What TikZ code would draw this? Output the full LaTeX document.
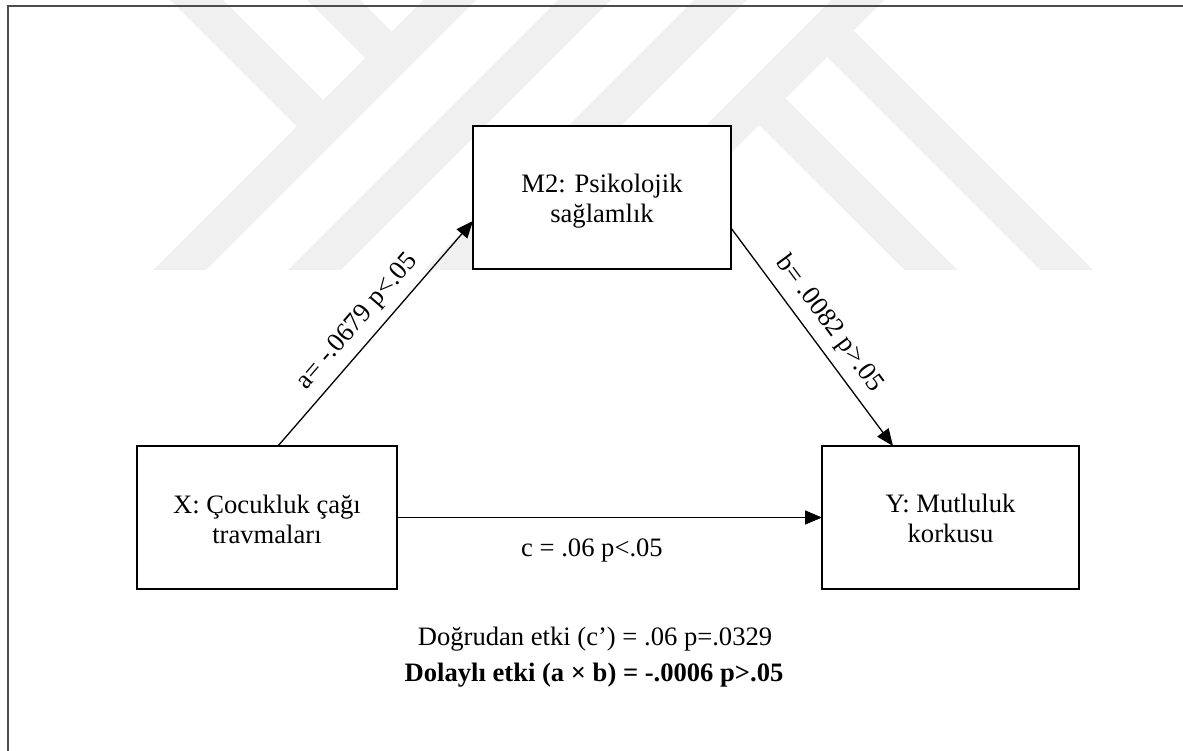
\documentclass[tikz,border=0pt]{standalone}
\usepackage{fontspec}
\setmainfont{Liberation Serif}
\usetikzlibrary{arrows.meta}
\begin{document}
\begin{tikzpicture}[x=1pt,y=-1pt,
  box/.style={draw=black, line width=2.6pt, fill=white, minimum height=143pt, inner sep=0pt, outer sep=0pt},
  txt/.style={font=\fontsize{26.6pt}{30.5pt}\selectfont, align=center, inner sep=0pt},
  conn/.style={line width=1.3pt, -{Triangle[length=17pt,width=14pt]}},
  elbl/.style={font=\fontsize{26.6pt}{30.5pt}\selectfont, inner sep=8.9pt},
  frame/.style={line width=2pt, draw=black!70},
  wm/.style={fill=black!6, draw=none}]
\useasboundingbox (0,0) rectangle (1183,751);
% watermark (faint background stripes)
\fill[wm] (423,0) -- (476,0) -- (206,270) -- (153,270) -- cycle;
\fill[wm] (558,0) -- (611,0) -- (341,270) -- (288,270) -- cycle;
\fill[wm] (694,0) -- (747,0) -- (477,270) -- (424,270) -- cycle;
\fill[wm] (831,0) -- (884,0) -- (614,270) -- (561,270) -- cycle;
\fill[wm] (170,0) -- (223,0) -- (323,100) -- (296.5,126.5) -- cycle;
\fill[wm] (307,0) -- (360,0) -- (391.5,31.5) -- (365,58) -- cycle;
\fill[wm] (759,125) -- (785.5,98.5) -- (957.5,270) -- (904.5,270) -- cycle;
\fill[wm] (827,57) -- (853.5,30.5) -- (1093,270) -- (1040,270) -- cycle;
% frame
\coordinate (ftl) at (7.8,6);
\coordinate (ftr) at (1183,6);
\coordinate (fbl) at (7.8,751);
\draw[frame] (ftr) -- (ftl) -- (fbl);
% boxes
\node[box, minimum width=258pt] (m) at (602,197.5) {};
\node[box, minimum width=260pt] (x) at (267,517.5) {};
\node[box, minimum width=257pt] (y) at (950.5,517.5) {};
\node[txt] (mt) at (602,201) {M2: Psikolojik\\sağlamlık};
\node[txt] (xt) at (267,519.5) {X: Çocukluk çağı\\travmaları};
\node[txt] (yt) at (950.5,518.5) {Y: Mutluluk\\korkusu};
% connectors
\draw[conn] ([xshift=11pt]x.north) -- node[elbl, pos=0.49, sloped, above] {a= -.0679 p<.05} ([yshift=-23.5pt]m.west);
\draw[conn] ([yshift=-30.5pt]m.east) -- node[elbl, pos=0.5, sloped, above] {b= .0082 p>.05} ([xshift=-57.5pt]y.north);
\draw[conn] (x.east) -- (x.east -| y.west);
\node[txt, anchor=base] (cl) at (592,556) {c = .06 p<.05};
% bottom texts
\node[txt, anchor=base] (de) at (595,645.5) {Doğrudan etki (c’) = .06 p=.0329};
\node[txt, anchor=base, font=\fontsize{26.6pt}{30.5pt}\selectfont\bfseries] (ie) at (594,681.5) {Dolaylı etki (a × b) = -.0006 p>.05};
\end{tikzpicture}
\end{document}
